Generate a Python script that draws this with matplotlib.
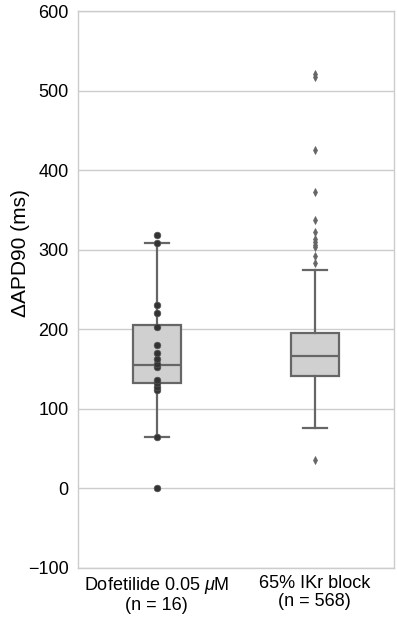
import numpy as np
import matplotlib
matplotlib.use('Agg')
import matplotlib.pyplot as plt

plt.rcParams['font.family'] = ['Liberation Sans', 'DejaVu Sans']
plt.rcParams['mathtext.fontset'] = 'custom'
plt.rcParams['mathtext.it'] = 'Liberation Sans:italic'

# categories / labels
etiquetas = ['Dofetilide 0.05 $\\mu$M\n(n = 16)', '65% IKr block\n(n = 568)']

# individual experimental values (dofetilide)
dofetilide = [0, 64, 124, 128, 132, 136, 152, 157, 163, 170, 180, 203, 220, 230, 309, 318]

# box summaries
medianas = [155, 166]
q1 = [132, 141]
q3 = [206, 195]
bigote_inf = [64, 76]
bigote_sup = [309, 275]
atipicos_ikr = [521, 517, 425, 372, 338, 322, 314, 310, 306, 303, 292, 283, 36]

stats = []
for i in range(2):
    stats.append({'med': medianas[i], 'q1': q1[i], 'q3': q3[i],
                  'whislo': bigote_inf[i], 'whishi': bigote_sup[i],
                  'fliers': atipicos_ikr if i == 1 else []})

fig = plt.figure(figsize=(3.97, 6.18), dpi=100)
ax = fig.add_axes([0.196, 0.081, 0.796, 0.901])

gris = '#666666'
ax.bxp(stats, positions=[0, 1], widths=0.3, patch_artist=True,
       boxprops=dict(facecolor='#d0d0d0', edgecolor=gris, linewidth=1.6),
       medianprops=dict(color=gris, linewidth=1.6),
       whiskerprops=dict(color=gris, linewidth=1.6),
       capprops=dict(color=gris, linewidth=1.6),
       flierprops=dict(marker='d', markerfacecolor=gris, markeredgecolor=gris,
                       markersize=4, markeredgewidth=0.5),
       zorder=2)

ax.plot(np.zeros(len(dofetilide)), dofetilide, 'o', color='#333333',
        markeredgecolor='#555555', markeredgewidth=0.5, markersize=4.8, zorder=4)

ax.set_xlim(-0.5, 1.5)
ax.set_ylim(-100, 600)
ax.set_yticks(np.arange(-100, 601, 100))
ax.set_xticks([0, 1])
ax.set_xticklabels(etiquetas, fontsize=13, linespacing=1.05)
ax.tick_params(axis='y', labelsize=13, length=0, pad=6.5)
ax.tick_params(axis='x', length=0, pad=5)
ax.grid(axis='y', color='#cccccc', linewidth=1)
ax.set_axisbelow(True)
for s in ax.spines.values():
    s.set_color('#cccccc')
    s.set_linewidth(1)
ax.set_ylabel('ΔAPD90 (ms)', fontsize=15, labelpad=6)
ax.yaxis.set_label_coords(-0.15, 0.565)

fig.savefig('out.png', dpi=100)
